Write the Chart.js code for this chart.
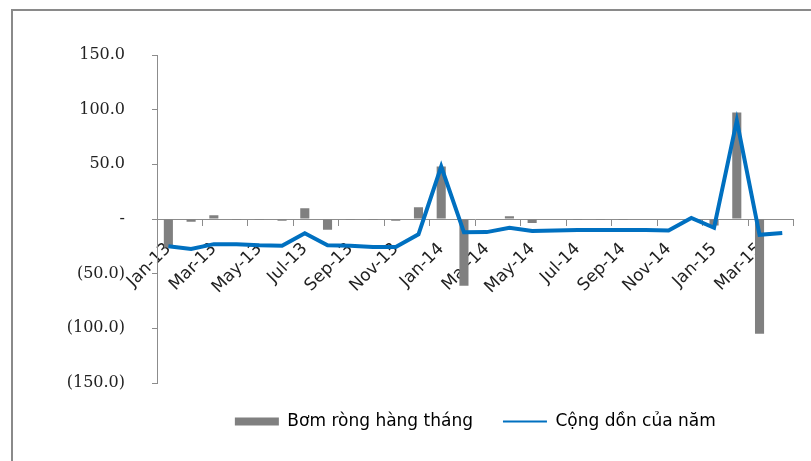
<!DOCTYPE html>
<html>
<head>
<meta charset="utf-8">
<script src="https://cdn.jsdelivr.net/npm/chart.js@4.4.0/dist/chart.umd.min.js"></script>
<style>
    html, body { margin: 0; padding: 0; background: #fff; }
    #wrap { position: relative; width: 811px; height: 461px; overflow: hidden; }
    #frame {
        position: absolute; left: 11px; top: 9px; width: 900px; height: 500px;
        border-left: 2px solid #8a8a8a; border-top: 2px solid #8a8a8a;
        pointer-events: none;
    }
    canvas { position: absolute; left: 0; top: 0; }
</style>
</head>
<body>
<div id="wrap">
    <canvas id="chart" width="811" height="461"></canvas>
    <div id="frame"></div>
</div>
<script>
// tháng
const months = [
    'Jan-13', 'Feb-13', 'Mar-13', 'Apr-13', 'May-13', 'Jun-13', 'Jul-13', 'Aug-13',
    'Sep-13', 'Oct-13', 'Nov-13', 'Dec-13', 'Jan-14', 'Feb-14', 'Mar-14', 'Apr-14',
    'May-14', 'Jun-14', 'Jul-14', 'Aug-14', 'Sep-14', 'Oct-14', 'Nov-14', 'Dec-14',
    'Jan-15', 'Feb-15', 'Mar-15', 'Apr-15'
];

// Bơm ròng hàng tháng
const netMonthly = [
    -26, -2.5, 3.5, -1, -1, -1.5, 9.8, -9.8, -1, -1, -1.5, 10.7, 48, -61,
    0, 2.5, -3.7, 0, -1, -1, -1, 0, 0, 0, -6, 97.5, -105, 0
];

// Cộng dồn của năm
const ytdTotal = [
    -25, -27.5, -23, -23, -24, -24.5, -13, -24, -24.5, -25.5, -25.5, -14, 48, -12.2,
    -12, -8, -11, -10.5, -10, -10, -10, -10, -10.5, 1, -8, 90, -14.5, -12.8
];

const yTicks = [-150, -100, -50, 0, 50, 100, 150];

const legendNames = ['Bơm ròng hàng tháng', 'Cộng dồn của năm'];

function formatValue(v) {
    if (v === 0) return '-';
    if (v < 0) return '(' + Math.abs(v).toFixed(1) + ')';
    return v.toFixed(1);
}

const barColor = '#808080';
const lineColor = '#0070c0';
const axisColor = '#8c8c8c';

// tick mark only on every second month boundary (and the closing one)
const everyOther = ctx => (ctx.index === undefined || ctx.index % 2 === 0 ? axisColor : 'rgba(0,0,0,0)');

new Chart(document.getElementById('chart'), {
    data: {
        labels: months,
        datasets: [
            {
                type: 'bar',
                label: legendNames[0],
                data: netMonthly,
                backgroundColor: barColor,
                barPercentage: 0.4,
                categoryPercentage: 1,
                order: 2
            },
            {
                type: 'line',
                label: legendNames[1],
                data: ytdTotal,
                borderColor: lineColor,
                borderWidth: 4,
                pointRadius: 0,
                tension: 0,
                order: 1
            }
        ]
    },
    options: {
        responsive: false,
        animation: false,
        layout: { padding: { top: 55, right: 12, bottom: 21, left: 0 } },
        scales: {
            x: {
                type: 'category',
                position: { y: 0 },
                offset: true,
                grid: {
                    offset: true,
                    drawOnChartArea: false,
                    drawTicks: true,
                    tickLength: 6,
                    lineWidth: 1,
                    tickWidth: 1,
                    color: everyOther,
                    tickColor: everyOther
                },
                border: { display: true, color: axisColor },
                ticks: {
                    autoSkip: false,
                    maxRotation: 45,
                    minRotation: 45,
                    padding: 14,
                    color: '#222',
                    font: { family: 'DejaVu Sans', size: 17 },
                    callback: (v, i) => (i % 2 === 0 ? months[i] : '')
                }
            },
            y: {
                min: -150,
                max: 150,
                afterFit: s => { s.width = 157; },
                afterBuildTicks: s => { s.ticks = yTicks.map(v => ({ value: v })); },
                grid: { drawOnChartArea: false, tickLength: 5, color: axisColor },
                border: { display: true, color: axisColor },
                ticks: {
                    padding: 27,
                    color: '#222',
                    font: { family: 'DejaVu Serif', size: 16 },
                    callback: v => formatValue(v)
                }
            }
        },
        plugins: {
            tooltip: { enabled: false },
            legend: {
                position: 'bottom',
                fullSize: false,
                labels: {
                    usePointStyle: true,
                    pointStyleWidth: 44,
                    boxHeight: 8,
                    padding: 30,
                    color: '#333',
                    font: { family: 'DejaVu Sans', size: 17 },
                    generateLabels: () => [
                        {
                            text: legendNames[0], pointStyle: 'rect', fillStyle: barColor,
                            strokeStyle: barColor, lineWidth: 0, datasetIndex: 0
                        },
                        {
                            text: legendNames[1], pointStyle: 'line', fillStyle: lineColor,
                            strokeStyle: lineColor, lineWidth: 2, datasetIndex: 1
                        }
                    ]
                }
            }
        }
    }
});
</script>
</body>
</html>
